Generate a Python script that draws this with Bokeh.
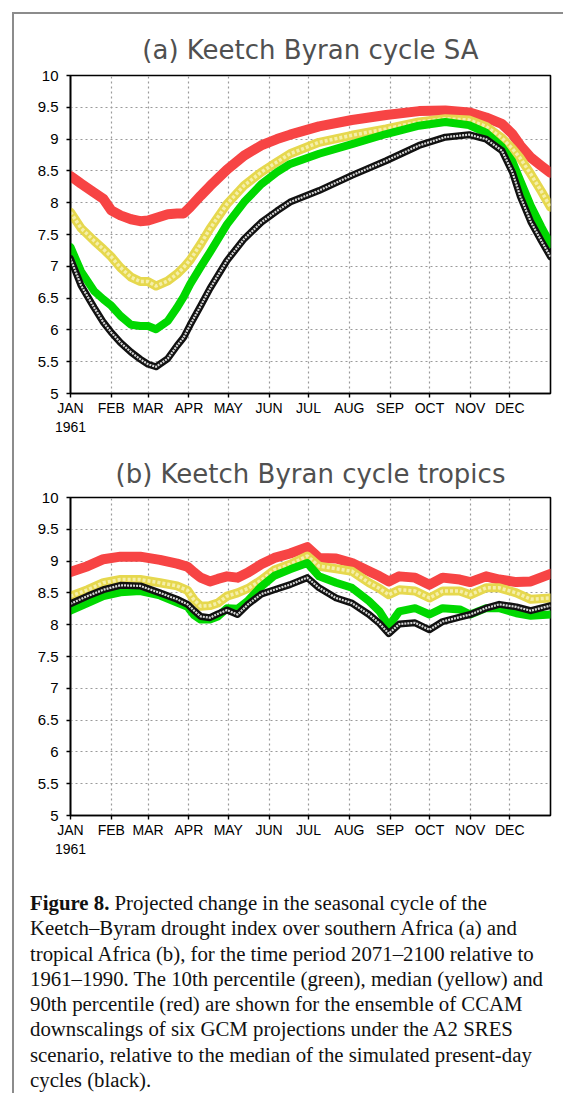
from bokeh.plotting import figure
from bokeh.models import FixedTicker, Range1d, Div
from bokeh.layouts import column
from bokeh.embed import file_html
from bokeh.resources import INLINE

# ---------------- data ----------------
month_days = [0, 31, 59, 90, 120, 151, 181, 212, 243, 273, 304, 334]
month_labels = ["JAN\n1961", "FEB", "MAR", "APR", "MAY", "JUN",
                "JUL", "AUG", "SEP", "OCT", "NOV", "DEC"]
y_ticks = [5, 5.5, 6, 6.5, 7, 7.5, 8, 8.5, 9, 9.5, 10]
y_labels = ["5", "5.5", "6", "6.5", "7", "7.5", "8", "8.5", "9", "9.5", "10"]

# (a) southern Africa
days_a = [0, 8, 18, 25, 31, 38, 46, 53, 59, 65, 74, 81, 86, 91, 99, 106, 119,
          132, 145, 157, 167, 189, 214, 240, 265, 285, 303, 316, 328, 336,
          342, 350, 358, 365]
red_a = [8.42, 8.30, 8.16, 8.06, 7.88, 7.80, 7.74, 7.71, 7.72, 7.76, 7.82,
         7.83, 7.83, 7.93, 8.11, 8.26, 8.52, 8.74, 8.90, 9.00, 9.07, 9.20,
         9.30, 9.38, 9.44, 9.45, 9.42, 9.34, 9.24, 9.08, 8.90, 8.71, 8.58, 8.47]
yellow_a = [7.85, 7.60, 7.40, 7.27, 7.15, 6.98, 6.83, 6.76, 6.76, 6.69, 6.77,
            6.88, 6.98, 7.10, 7.35, 7.59, 7.98, 8.27, 8.48, 8.64, 8.77, 8.95,
            9.06, 9.16, 9.27, 9.32, 9.30, 9.20, 9.02, 8.85, 8.70, 8.45, 8.18, 7.93]
green_a = [7.30, 6.92, 6.61, 6.48, 6.38, 6.22, 6.08, 6.06, 6.06, 6.01, 6.14,
           6.35, 6.52, 6.72, 6.99, 7.22, 7.66, 8.01, 8.29, 8.48, 8.61, 8.77,
           8.92, 9.08, 9.21, 9.27, 9.22, 9.10, 8.88, 8.65, 8.35, 7.95, 7.62, 7.35]
black_a = [7.12, 6.70, 6.35, 6.12, 5.96, 5.80, 5.65, 5.54, 5.46, 5.42, 5.55,
           5.75, 5.88, 6.08, 6.38, 6.65, 7.09, 7.43, 7.69, 7.87, 8.01, 8.19,
           8.43, 8.66, 8.90, 9.03, 9.07, 9.00, 8.82, 8.48, 8.10, 7.70, 7.40, 7.15]

# (b) tropics
days_b = [0, 13, 25, 38, 53, 68, 81, 89, 94, 99, 106, 112, 119, 127, 135, 145,
          155, 167, 180, 189, 202, 214, 227, 235, 242, 250, 262, 273, 283, 296,
          304, 316, 326, 339, 350, 365]
red_b = [8.83, 8.92, 9.03, 9.07, 9.07, 9.02, 8.96, 8.91, 8.82, 8.74, 8.68,
         8.72, 8.76, 8.74, 8.82, 8.95, 9.05, 9.12, 9.22, 9.05, 9.04, 8.97,
         8.84, 8.76, 8.68, 8.76, 8.74, 8.63, 8.74, 8.71, 8.67, 8.76, 8.71,
         8.67, 8.68, 8.80]
yellow_b = [8.45, 8.55, 8.66, 8.71, 8.71, 8.66, 8.61, 8.54, 8.39, 8.29, 8.30,
            8.34, 8.45, 8.50, 8.57, 8.70, 8.86, 8.95, 9.08, 8.92, 8.88, 8.84,
            8.66, 8.57, 8.47, 8.55, 8.53, 8.42, 8.53, 8.53, 8.47, 8.58, 8.58,
            8.50, 8.40, 8.42]
green_b = [8.22, 8.34, 8.45, 8.51, 8.53, 8.46, 8.35, 8.28, 8.15, 8.08, 8.08,
           8.13, 8.26, 8.25, 8.38, 8.60, 8.77, 8.87, 8.97, 8.76, 8.66, 8.58,
           8.37, 8.21, 7.98, 8.21, 8.26, 8.16, 8.26, 8.24, 8.16, 8.26, 8.26,
           8.18, 8.14, 8.16]
black_b = [8.33, 8.45, 8.55, 8.62, 8.61, 8.50, 8.40, 8.32, 8.22, 8.13, 8.11,
           8.17, 8.23, 8.16, 8.32, 8.48, 8.55, 8.63, 8.74, 8.58, 8.42, 8.34,
           8.16, 8.02, 7.86, 8.01, 8.03, 7.92, 8.05, 8.12, 8.16, 8.26, 8.32,
           8.28, 8.22, 8.30]

caption_lines = [
    "<b>Figure 8.</b> Projected change in the seasonal cycle of the",
    "Keetch\u2013Byram drought index over southern Africa (a) and",
    "tropical Africa (b), for the time period 2071\u20132100 relative to",
    "1961\u20131990. The 10th percentile (green), median (yellow) and",
    "90th percentile (red) are shown for the ensemble of CCAM",
    "downscalings of six GCM projections under the A2 SRES",
    "scenario, relative to the median of the simulated present-day",
    "cycles (black).",
]

RED = "#f74444"
YELLOW = "#e6d84e"
YELLOW_IN = "#f5efaa"
GREEN = "#00d800"


def make_panel(title, days, black, green, yellow, red, height, top, bottom, standoff):
    p = figure(width=555, height=height, x_range=Range1d(0, 365),
               y_range=Range1d(5, 10), output_backend="svg",
               toolbar_location=None, min_border_left=70, min_border_right=5,
               min_border_top=top, min_border_bottom=bottom)
    p.background_fill_color = "white"
    p.border_fill_color = None
    p.outline_line_color = "black"
    p.outline_line_width = 1.6

    p.title.text = title
    p.title.align = "center"
    p.title.text_font = "DejaVu Sans"
    p.title.text_font_style = "normal"
    p.title.text_font_size = "26px"
    p.title.text_color = "#505050"
    p.title.standoff = standoff

    p.xaxis.ticker = FixedTicker(ticks=month_days)
    p.xaxis.major_label_overrides = dict(zip(month_days, month_labels))
    p.yaxis.ticker = FixedTicker(ticks=y_ticks)
    p.yaxis.major_label_overrides = dict(zip(y_ticks, y_labels))
    for ax in (p.xaxis, p.yaxis):
        ax.axis_line_color = "black"
        ax.axis_line_width = 1.6
        ax.major_tick_line_color = "black"
        ax.major_tick_line_width = 1.4
        ax.major_tick_in = 0
        ax.major_tick_out = 4
        ax.minor_tick_line_color = None
        ax.major_label_text_font = "Liberation Sans"
        ax.major_label_text_color = "black"
    p.xaxis.major_label_text_font_size = "14px"
    p.yaxis.major_label_text_font_size = "15px"
    p.xaxis.major_label_standoff = 2
    p.yaxis.major_label_standoff = 8

    p.xgrid.ticker = FixedTicker(ticks=month_days)
    p.ygrid.ticker = FixedTicker(ticks=y_ticks)
    for g in (p.xgrid, p.ygrid):
        g.grid_line_color = "#9a9a9a"
        g.grid_line_dash = "2 3"
        g.grid_line_width = 1.2

    p.line(days, red, line_color=RED, line_width=10, line_join="round", line_cap="round")
    p.line(days, yellow, line_color=YELLOW, line_width=9, line_join="round", line_cap="round")
    p.line(days, yellow, line_color=YELLOW_IN, line_width=3.5, line_dash="3 2",
           line_join="round")
    p.line(days, green, line_color=GREEN, line_width=8, line_join="round", line_cap="round")
    p.line(days, black, line_color="#111111", line_width=7, line_join="round", line_cap="round")
    p.line(days, black, line_color="#d8d8d8", line_width=2.2, line_dash="2 1",
           line_join="round")
    return p


pa = make_panel("(a) Keetch Byran cycle SA", days_a, black_a, green_a,
                yellow_a, red_a, 447, 75, 54, 21)
pb = make_panel("(b) Keetch Byran cycle tropics", days_b, black_b, green_b,
                yellow_b, red_b, 430, 50, 62, 17)

frame_html = (
    '<div style="position:fixed;left:12px;top:12px;width:2px;height:1081px;'
    'background:#8c8c8c"></div>'
    '<div style="position:fixed;left:12px;top:12px;width:551px;height:2px;'
    'background:#8c8c8c"></div>'
)

cap = Div(text=frame_html + "<br>".join(caption_lines), width=555, height=206,
          styles={"font-family": "Liberation Serif", "font-size": "20.8px",
                  "line-height": "25.3px", "color": "#111",
                  "white-space": "nowrap", "padding-left": "25px",
                  "padding-top": "8px"})

layout = column(pa, pb, cap)

open("out.html", "w").write(file_html(layout, INLINE))
